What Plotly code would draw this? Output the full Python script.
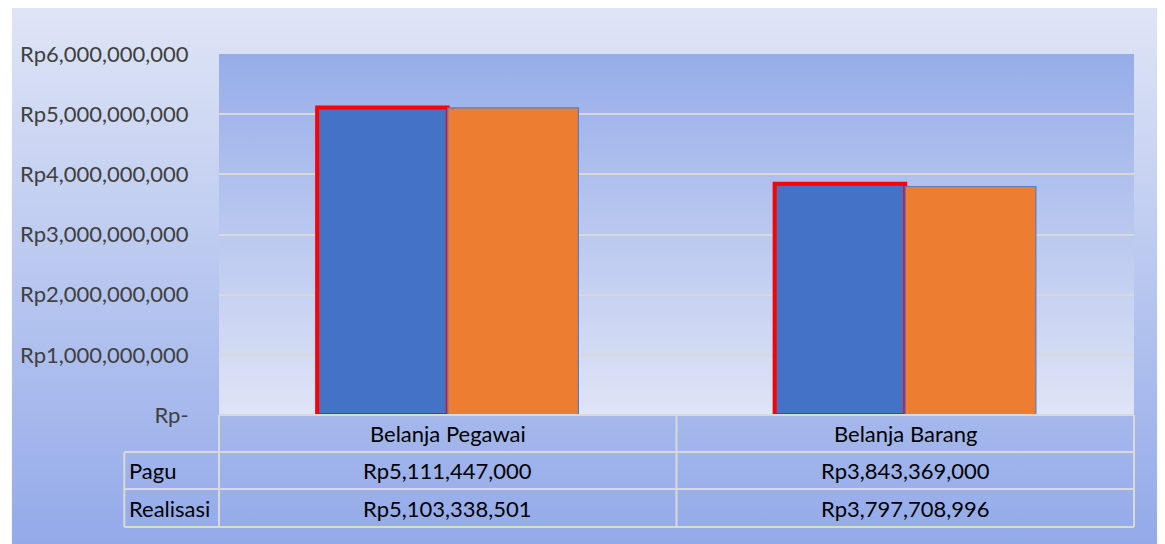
import base64
import plotly.graph_objects as go

categories = ["Belanja Pegawai", "Belanja Barang"]
series_names = ["Pagu", "Realisasi"]
pagu = [5111447000, 3843369000]
realisasi = [5103338501, 3797708996]
tick_vals = [0, 1e9, 2e9, 3e9, 4e9, 5e9, 6e9]
tick_text = ["Rp-", "Rp1,000,000,000", "Rp2,000,000,000", "Rp3,000,000,000",
             "Rp4,000,000,000", "Rp5,000,000,000", "Rp6,000,000,000"]

OFF = 8  # page body margin
W, H = 1165 - OFF, 544 - OFF
# screen-pixel layout of the reference
L, R, T, B = 216 - OFF, 1134 - OFF, 54 - OFF, 415 - OFF
PW, PH = R - L, B - T
FONT = "Lato, 'Open Sans', sans-serif"
FS = 22


def grad(top, bottom):
    svg = ("<svg xmlns='http://www.w3.org/2000/svg' width='100' height='100' viewBox='0 0 100 100' "
           "preserveAspectRatio='none'><defs><linearGradient id='g' x1='0' y1='0' x2='0' y2='1'>"
           f"<stop offset='0' stop-color='{top}'/><stop offset='1' stop-color='{bottom}'/>"
           "</linearGradient></defs><rect width='100' height='100' fill='url(#g)'/></svg>")
    return "data:image/svg+xml;base64," + base64.b64encode(svg.encode()).decode()


def px_x(p):
    return (p - OFF - L) / PW


def px_y(p):
    return (B - (p - OFF)) / PH


fig = go.Figure()
fig.add_trace(go.Bar(x=categories, y=pagu, name=series_names[0],
                     marker=dict(color="#4472c4", line=dict(color="#ff0000", width=4))))
fig.add_trace(go.Bar(x=categories, y=realisasi, name=series_names[1],
                     marker=dict(color="#ed7d31", line=dict(color="#4f7ccb", width=1.2))))

images = [
    dict(source=grad("#dfe5f6", "#93aae9"), xref="paper", yref="paper",
         x=px_x(OFF), y=px_y(OFF), sizex=W / PW, sizey=H / PH,
         xanchor="left", yanchor="top", sizing="stretch", layer="below"),
    dict(source=grad("#96ade9", "#dfe4f6"), xref="paper", yref="paper",
         x=0, y=1, sizex=1, sizey=1, xanchor="left", yanchor="top",
         sizing="stretch", layer="below"),
]

# table geometry (screen pixels)
rows_px = [415, 452, 489, 527]
col_px = [216, 675, 1134]
left_px = 121
line = dict(color="#d9d9d9", width=2)
shapes = []
shapes.append(dict(type="line", xref="paper", yref="paper", x0=px_x(col_px[0]), x1=px_x(col_px[-1]),
                   y0=px_y(rows_px[0]), y1=px_y(rows_px[0]), line=line))
for r in rows_px[1:]:
    shapes.append(dict(type="line", xref="paper", yref="paper", x0=px_x(left_px), x1=px_x(col_px[-1]),
                       y0=px_y(r), y1=px_y(r), line=line))
for c in col_px:
    shapes.append(dict(type="line", xref="paper", yref="paper", x0=px_x(c), x1=px_x(c),
                       y0=px_y(rows_px[0]), y1=px_y(rows_px[-1]), line=line))
shapes.append(dict(type="line", xref="paper", yref="paper", x0=px_x(left_px), x1=px_x(left_px),
                   y0=px_y(rows_px[1]), y1=px_y(rows_px[-1]), line=line))

annotations = []
row_values = [pagu, realisasi]
tfont = dict(size=FS, color="#000000", family=FONT)
for i, cat in enumerate(categories):
    annotations.append(dict(x=i, y=(px_y(rows_px[0]) + px_y(rows_px[1])) / 2, xref="x", yref="paper",
                            text=cat, showarrow=False, yanchor="middle", font=tfont))
    for j, vals in enumerate(row_values):
        annotations.append(dict(x=i, y=(px_y(rows_px[j + 1]) + px_y(rows_px[j + 2])) / 2,
                                xref="x", yref="paper", text=f"Rp{vals[i]:,}", showarrow=False,
                                yanchor="middle", font=tfont))
for j, name in enumerate(series_names):
    annotations.append(dict(x=px_x(left_px + 3), y=(px_y(rows_px[j + 1]) + px_y(rows_px[j + 2])) / 2,
                            xref="paper", yref="paper", text=name, showarrow=False,
                            xanchor="left", yanchor="middle", font=tfont))

fig.update_layout(
    width=W, height=H,
    margin=dict(l=L, r=W - R, t=T, b=H - B, pad=0),
    paper_bgcolor="#ffffff", plot_bgcolor="rgba(0,0,0,0)",
    barmode="group", bargap=0.429, bargroupgap=0,
    showlegend=False,
    images=images, shapes=shapes, annotations=annotations,
    font=dict(family=FONT, size=FS, color="#404040"),
    xaxis=dict(range=[-0.5, 1.5], showticklabels=False, showgrid=False, zeroline=False,
               showline=False, ticks=""),
    yaxis=dict(range=[0, 6e9], tickvals=tick_vals, ticktext=tick_text, showgrid=True,
               gridcolor="#d9d9d9", gridwidth=2, zeroline=False, showline=False,
               ticks="outside", ticklen=25, tickcolor="rgba(0,0,0,0)",
               tickfont=dict(size=FS, color="#404040", family=FONT)),
)

fig.write_html("out.html")
